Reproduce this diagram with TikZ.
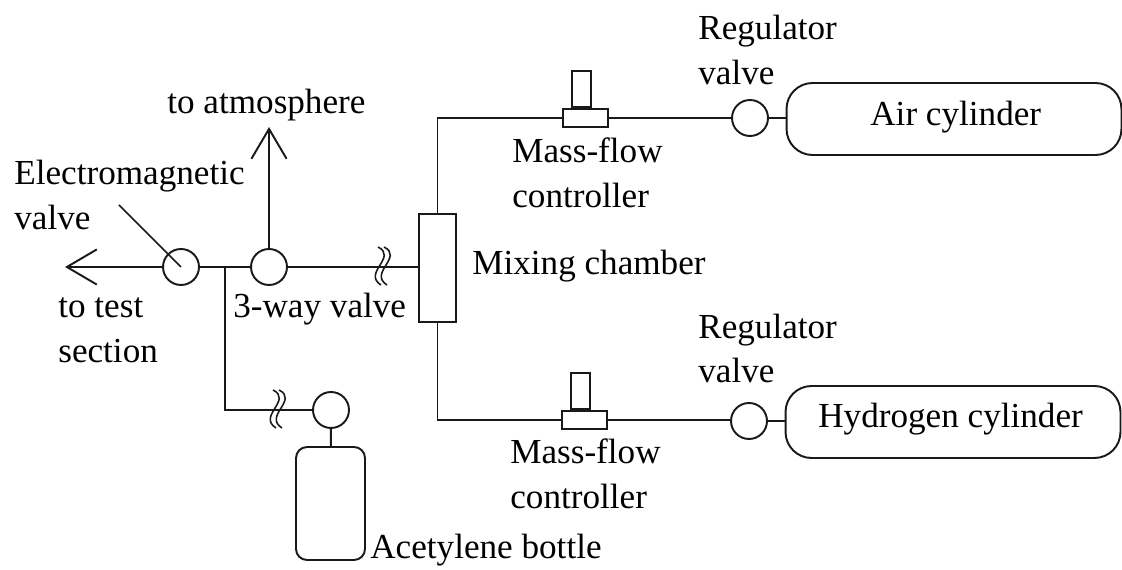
\documentclass[tikz,border=0pt]{standalone}
\usepackage{fontspec}
\setmainfont{Liberation Serif}
\usetikzlibrary{arrows.meta,positioning}

\begin{document}
\begin{tikzpicture}[
    x=0.02cm, y=-0.02cm,
    font=\fontsize{20}{24}\selectfont,
    pipe/.style={draw=black!90, line width=1.1pt},
    valve/.style={circle, draw=black!90, line width=1.1pt, fill=white, minimum size=0.72cm, inner sep=0pt},
    chamber/.style={rectangle, draw=black!90, line width=1.1pt, fill=white, minimum width=0.74cm, minimum height=2.16cm, inner sep=0pt},
    mfcBody/.style={rectangle, draw=black!90, line width=1.1pt, fill=white, minimum width=0.9cm, minimum height=0.36cm, inner sep=0pt},
    mfcTop/.style={rectangle, draw=black!90, line width=1.1pt, fill=white, minimum width=0.38cm, minimum height=0.72cm, inner sep=0pt},
    gasCyl/.style={rectangle, rounded corners=0.52cm, draw=black!90, line width=1.1pt, fill=white, minimum width=6.7cm, minimum height=1.44cm, inner sep=0pt},
    bottle/.style={rectangle, rounded corners=0.22cm, draw=black!90, line width=1.1pt, fill=white, minimum width=1.38cm, minimum height=2.26cm, inner sep=0pt},
    flowArrow/.style={pipe, -{Straight Barb[length=17pt, width=20pt]}},
    lbl/.style={inner sep=0pt, anchor=base west},
    breakmark/.pic={
        \draw[pipe, line width=0.9pt] (-4,-20) .. controls (16,-10) and (-20,6) .. (-1,18);
        \draw[pipe, line width=0.9pt] (2,-20) .. controls (22,-10) and (-14,6) .. (5,18);
    }
]
\useasboundingbox (0,0) rectangle (1122,570);

% Valves
\node[valve] (emValve) at (181,267) {};
\node[valve] (threeWay) at (269,267) {};
\node[valve] (acetValve) at (331,410) {};
\node[valve] (airReg) at (750,118) {};
\node[valve] (hydReg) at (749,421) {};

% Mixing chamber
\node[chamber] (mixer) at (437.5,268) {};

% Mass-flow controllers
\node[mfcBody] (airMfc) at (585.5,118) {};
\node[mfcTop, above=0pt of airMfc, xshift=-0.08cm] (airMfcTop) {};
\node[mfcBody] (hydMfc) at (584.5,420) {};
\node[mfcTop, above=0pt of hydMfc, xshift=-0.08cm] (hydMfcTop) {};

% Cylinders
\node[gasCyl] (airCyl) at (954,119) {};
\node[gasCyl] (hydCyl) at (953,422) {};
\node[bottle] (acetBottle) at (330.5,503.5) {};

% Free ends and corners
\coordinate (testEnd) at (65,267);
\coordinate (atmEnd) at (269,127);
\coordinate (teeTop) at (225,267);
\coordinate (teeLow) at (225,410);
\coordinate (airCorner) at (437.5,118);
\coordinate (hydCorner) at (437.5,420);
\coordinate (pointerEnd) at (119,205);

% Lines
\draw[flowArrow] (emValve) -- (testEnd);
\draw[flowArrow] (threeWay) -- (atmEnd);
\draw[pipe] (emValve) -- (threeWay);
\draw[pipe] (threeWay) -- (threeWay -| mixer.west);
\draw[pipe] (teeTop) -- (teeLow) -- (acetValve);
\draw[pipe] (acetValve) -- (acetBottle);
\draw[pipe] (mixer.north) -- (airCorner) -- (airMfc);
\draw[pipe] (mixer.south) -- (hydCorner) -- (hydMfc);
\draw[pipe] (airMfc) -- (airReg);
\draw[pipe] (hydMfc.east) -- (hydMfc.east -| hydReg.west);
\draw[pipe] (airReg) -- (airReg -| airCyl.west);
\draw[pipe] (hydReg) -- (hydReg -| hydCyl.west);
\draw[pipe, line width=0.9pt] (pointerEnd) -- (emValve.center);

% Breaks in the pipes
\pic at (382,267) {breakmark};
\pic at (277,410) {breakmark};

% Labels
\node[lbl] (atmLbl) at (167,114) {to atmosphere};
\node[lbl] (emLbl) at (14,185) {Electromagnetic};
\node[lbl] (emLblB) at (14,230) {valve};
\node[lbl] (testLbl) at (58,318) {to test};
\node[lbl] (testLblB) at (58,363) {section};
\node[lbl] (wayLbl) at (233,318) {3-way valve};
\node[lbl] (mixLbl) at (472,275) {Mixing chamber};
\node[lbl] (airRegLbl) at (698,40) {Regulator};
\node[lbl] (airRegLblB) at (698,85) {valve};
\node[lbl] (airMfcLbl) at (512,163) {Mass-flow};
\node[lbl] (airMfcLblB) at (512,208) {controller};
\node[lbl] (airCylLbl) at (870,126) {Air cylinder};
\node[lbl] (hydRegLbl) at (698,339) {Regulator};
\node[lbl] (hydRegLblB) at (698,383) {valve};
\node[lbl] (hydMfcLbl) at (510,463) {Mass-flow};
\node[lbl] (hydMfcLblB) at (510,508) {controller};
\node[lbl] (hydCylLbl) at (818,428) {Hydrogen cylinder};
\node[lbl] (acetLbl) at (370,558) {Acetylene bottle};

\end{tikzpicture}
\end{document}
